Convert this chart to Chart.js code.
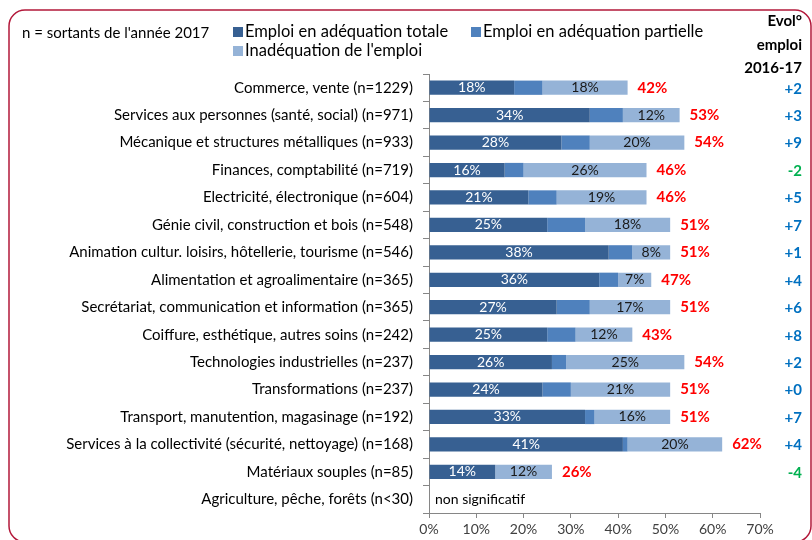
<!DOCTYPE html>
<html>
<head>
<meta charset="utf-8">
<script src="https://cdn.jsdelivr.net/npm/chart.js@4/dist/chart.umd.min.js"></script>
<style>
  html, body { margin: 0; padding: 0; background: #ffffff; }
  #wrap { width: 812px; height: 540px; position: relative; }
</style>
</head>
<body>
<div id="wrap"><canvas id="c" width="812" height="540"></canvas></div>
<script>
const categories = [
  "Commerce, vente (n=1229)",
  "Services aux personnes (santé, social) (n=971)",
  "Mécanique et structures métalliques (n=933)",
  "Finances, comptabilité (n=719)",
  "Electricité, électronique (n=604)",
  "Génie civil, construction et bois (n=548)",
  "Animation cultur. loisirs, hôtellerie, tourisme (n=546)",
  "Alimentation et agroalimentaire (n=365)",
  "Secrétariat, communication et information (n=365)",
  "Coiffure, esthétique, autres soins (n=242)",
  "Technologies industrielles (n=237)",
  "Transformations (n=237)",
  "Transport, manutention, magasinage (n=192)",
  "Services à la collectivité (sécurité, nettoyage) (n=168)",
  "Matériaux souples (n=85)",
  "Agriculture, pêche, forêts (n<30)"
];
const seriesNames = ["Emploi en adéquation totale", "Emploi en adéquation partielle", "Inadéquation de l'emploi"];
const adequationTotale    = [18, 34, 28, 16, 21, 25, 38, 36, 27, 25, 26, 24, 33, 41, 14, null];
const adequationPartielle = [ 6,  7,  6,  4,  6,  8,  5,  4,  7,  6,  3,  6,  2,  1,  0, null];
const inadequation        = [18, 12, 20, 26, 19, 18,  8,  7, 17, 12, 25, 21, 16, 20, 12, null];
const totals              = [42, 53, 54, 46, 46, 51, 51, 47, 51, 43, 54, 51, 51, 62, 26, null];
const evolution = ["+2", "+3", "+9", "-2", "+5", "+7", "+1", "+4", "+6", "+8", "+2", "+0", "+7", "+4", "-4", ""];
const evolHeader = ["Evol°", "emploi", "2016-17"];
const xTickValues = [0, 10, 20, 30, 40, 50, 60, 70];
const noteText = "n = sortants de l'année 2017";
const nonSignificatif = "non significatif";

const FONT = "Lato, 'Open Sans', sans-serif";
const colors = ["#376092", "#4F81BD", "#95B3D7"];

function roundRectPath(ctx, x, y, w, h, r) {
  ctx.beginPath();
  ctx.moveTo(x + r, y);
  ctx.lineTo(x + w - r, y);
  ctx.arcTo(x + w, y, x + w, y + r, r);
  ctx.lineTo(x + w, y + h - r);
  ctx.arcTo(x + w, y + h, x + w - r, y + h, r);
  ctx.lineTo(x + r, y + h);
  ctx.arcTo(x, y + h, x, y + h - r, r);
  ctx.lineTo(x, y + r);
  ctx.arcTo(x, y, x + r, y, r);
  ctx.closePath();
}

const decorPlugin = {
  id: 'decor',
  afterDraw(chart) {
    const ctx = chart.ctx;
    const area = chart.chartArea;
    const yScale = chart.scales.y;
    ctx.save();
    // frame
    ctx.strokeStyle = "#B3183A";
    ctx.lineWidth = 1.5;
    roundRectPath(ctx, 9, 10, 802, 532, 16);
    ctx.stroke();

    // note
    ctx.fillStyle = "#000";
    ctx.textBaseline = "middle";
    ctx.textAlign = "left";
    ctx.font = "15px " + FONT;
    ctx.fillText(noteText, 22, 33);

    // legend
    ctx.font = "16.5px " + FONT;
    const leg = [[233, 32, 0], [471, 32, 1], [233, 51, 2]];
    leg.forEach(([lx, ly, k]) => {
      ctx.fillStyle = colors[k];
      ctx.fillRect(lx, ly - 5, 10, 10);
      ctx.fillStyle = "#000";
      ctx.fillText(seriesNames[k], lx + 12, ly);
    });

    // evol header
    ctx.font = "bold 15px " + FONT;
    ctx.textAlign = "right";
    const hy = [21, 45, 68];
    evolHeader.forEach((t, i) => ctx.fillText(t, 802, hy[i]));

    // segment labels + totals
    const metas = [0, 1, 2].map(i => chart.getDatasetMeta(i));
    categories.forEach((cat, j) => {
      const yc = yScale.getPixelForValue(j);
      if (totals[j] === null) {
        ctx.font = "14px " + FONT;
        ctx.fillStyle = "#000";
        ctx.textAlign = "left";
        ctx.fillText(nonSignificatif, area.left + 6, yc);
      } else {
        const el0 = metas[0].data[j];
        const el2 = metas[2].data[j];
        ctx.font = "14px " + FONT;
        ctx.textAlign = "center";
        ctx.fillStyle = "#ffffff";
        ctx.fillText(adequationTotale[j] + "%", (el0.x + el0.base) / 2, yc);
        ctx.fillStyle = "#1a1a1a";
        ctx.fillText(inadequation[j] + "%", (el2.x + el2.base) / 2, yc);
        ctx.font = "bold 15px " + FONT;
        ctx.fillStyle = "#FF0000";
        ctx.textAlign = "left";
        ctx.fillText(totals[j] + "%", el2.x + 10, yc);
      }
      if (evolution[j]) {
        ctx.font = "bold 15px " + FONT;
        ctx.textAlign = "right";
        ctx.fillStyle = evolution[j].charAt(0) === "-" ? "#00B050" : "#0070C0";
        ctx.fillText(evolution[j], 802, yc + 1);
      }
    });
    ctx.restore();
  }
};

new Chart(document.getElementById('c'), {
  type: 'bar',
  data: {
    labels: categories,
    datasets: [
      { label: seriesNames[0], data: adequationTotale, backgroundColor: colors[0] },
      { label: seriesNames[1], data: adequationPartielle, backgroundColor: colors[1] },
      { label: seriesNames[2], data: inadequation, backgroundColor: colors[2] }
    ]
  },
  options: {
    indexAxis: 'y',
    responsive: false,
    animation: false,
    devicePixelRatio: 1,
    datasets: { bar: { categoryPercentage: 1, barPercentage: 0.52, borderWidth: 0 } },
    layout: { padding: { top: 74, right: 52, bottom: 0, left: 0 } },
    plugins: { legend: { display: false }, tooltip: { enabled: false } },
    scales: {
      x: {
        stacked: true, min: 0, max: 70,
        afterBuildTicks(scale) { scale.ticks = xTickValues.map(v => ({ value: v })); },
        afterFit(scale) { scale.height = 27; },
        ticks: { callback: v => v + "%", font: { size: 14, family: FONT }, color: "#404040", padding: 3, maxRotation: 0 },
        grid: { drawOnChartArea: false, drawTicks: true, tickLength: 5, color: "#868686" },
        border: { color: "#868686" }
      },
      y: {
        stacked: true,
        afterFit(scale) { scale.width = 429; },
        ticks: { autoSkip: false, font: { size: 15, family: FONT }, color: "#000", padding: 10 },
        grid: { drawOnChartArea: false, drawTicks: true, tickLength: 6, offset: true, color: "#868686" },
        border: { color: "#868686" }
      }
    }
  },
  plugins: [decorPlugin]
});
</script>
</body>
</html>
